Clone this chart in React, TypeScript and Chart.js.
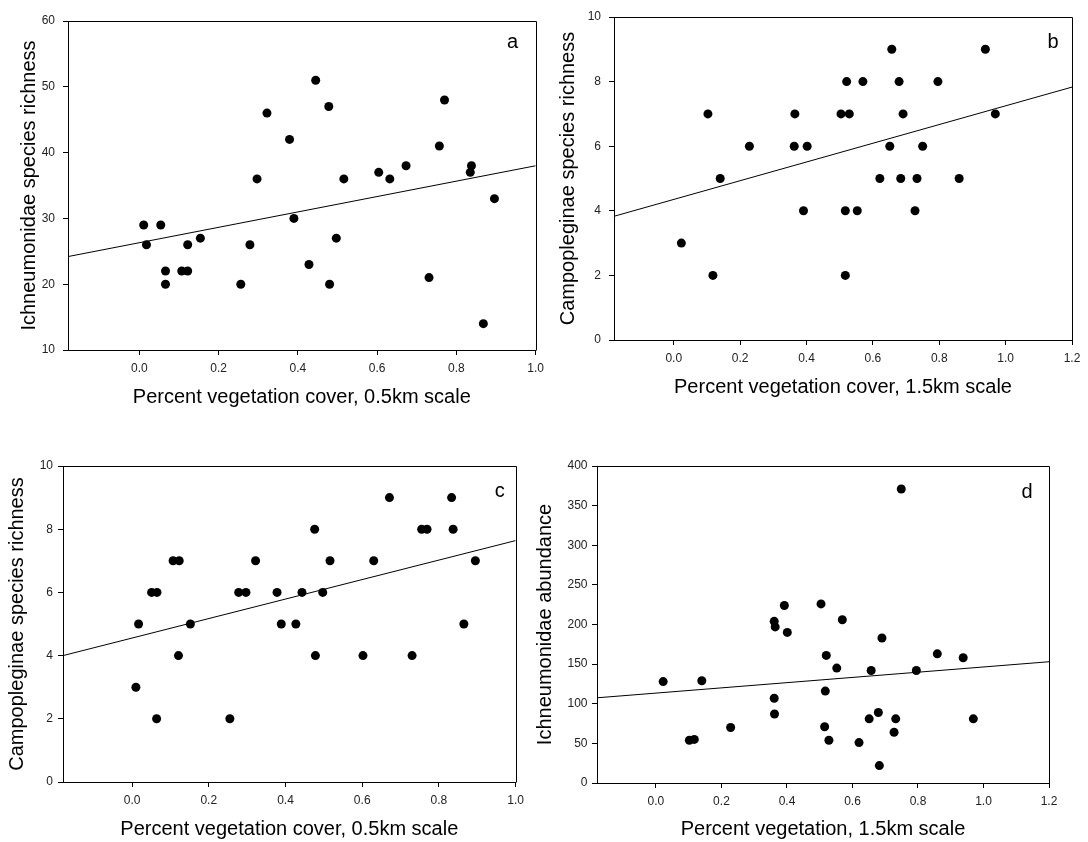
import React, { useEffect, useRef } from "react";
import { Chart, registerables } from "chart.js";

Chart.register(...registerables);

// ---------- Panel a: Ichneumonidae richness vs vegetation 0.5 km ----------
const aX = [0.011, 0.018, 0.054, 0.066, 0.066, 0.107, 0.122, 0.122, 0.154, 0.256, 0.279, 0.297, 0.322, 0.379, 0.390, 0.428, 0.445, 0.478, 0.480, 0.497, 0.516, 0.604, 0.632, 0.673, 0.731, 0.757, 0.770, 0.835, 0.838, 0.868, 0.896];
const aY = [29, 26, 29, 22, 20, 22, 22, 26, 27, 20, 26, 36, 46, 42, 30, 23, 51, 47, 20, 27, 36, 37, 36, 38, 21, 41, 48, 37, 38, 14, 33];
const aLineX = [-0.18, 1.0];
const aLineY = [24.2, 38.0];

// ---------- Panel b: Campopleginae richness vs vegetation 1.5 km ----------
const bX = [0.023, 0.103, 0.118, 0.140, 0.228, 0.363, 0.365, 0.391, 0.402, 0.504, 0.517, 0.517, 0.521, 0.529, 0.553, 0.570, 0.621, 0.651, 0.657, 0.679, 0.684, 0.691, 0.727, 0.733, 0.750, 0.796, 0.860, 0.939, 0.969];
const bY = [3, 7, 2, 5, 6, 6, 7, 4, 6, 7, 4, 2, 8, 7, 4, 8, 5, 6, 9, 8, 5, 7, 4, 5, 6, 8, 5, 9, 7];
const bLineX = [-0.18, 1.2];
const bLineY = [3.83, 7.83];

// ---------- Panel c: Campopleginae richness vs vegetation 0.5 km ----------
const cX = [0.010, 0.017, 0.051, 0.065, 0.064, 0.107, 0.123, 0.121, 0.152, 0.255, 0.278, 0.297, 0.322, 0.378, 0.389, 0.427, 0.443, 0.476, 0.478, 0.497, 0.516, 0.602, 0.630, 0.671, 0.730, 0.755, 0.769, 0.833, 0.837, 0.865, 0.895];
const cY = [3, 5, 6, 6, 2, 7, 7, 4, 5, 2, 6, 6, 7, 6, 5, 5, 6, 8, 4, 6, 7, 4, 7, 9, 4, 8, 8, 9, 8, 5, 7];
const cLineX = [-0.18, 1.0];
const cLineY = [4.0, 7.64];

// ---------- Panel d: Ichneumonidae abundance vs vegetation 1.5 km ----------
const dX = [0.022, 0.102, 0.117, 0.140, 0.228, 0.361, 0.364, 0.361, 0.362, 0.392, 0.401, 0.504, 0.520, 0.517, 0.515, 0.528, 0.552, 0.569, 0.620, 0.651, 0.657, 0.679, 0.682, 0.690, 0.727, 0.732, 0.749, 0.795, 0.859, 0.938, 0.969];
const dY = [128, 54, 55, 129, 70, 204, 197, 107, 87, 224, 190, 226, 161, 116, 71, 54, 145, 206, 51, 81, 142, 89, 22, 183, 64, 81, 371, 142, 163, 158, 81];
const dLineX = [-0.18, 1.2];
const dLineY = [107.5, 153];

// ---------- Tick labels ----------
const xTicks05 = [0.0, 0.2, 0.4, 0.6, 0.8, 1.0];
const xTicks15 = [0.0, 0.2, 0.4, 0.6, 0.8, 1.0, 1.2];
const yTicksA = [10, 20, 30, 40, 50, 60];
const yTicksBC = [0, 2, 4, 6, 8, 10];
const yTicksD = [0, 50, 100, 150, 200, 250, 300, 350, 400];

const FONT = "'Liberation Sans', Arial, Helvetica, sans-serif";

const frameLetterPlugin = {
  id: "frameLetter",
  afterDraw(chart: any, _args: any, opts: any) {
    const { ctx, chartArea } = chart;
    const l = Math.round(chartArea.left) + 0.5;
    const t = Math.round(chartArea.top) + 0.5;
    const r = Math.round(chartArea.right) + 0.5;
    const b = Math.round(chartArea.bottom) + 0.5;
    ctx.save();
    ctx.strokeStyle = "#000";
    ctx.lineWidth = 1;
    ctx.beginPath();
    ctx.moveTo(l, t);
    ctx.lineTo(r, t);
    ctx.lineTo(r, b);
    ctx.stroke();
    ctx.fillStyle = "#000";
    ctx.font = `20px ${FONT}`;
    ctx.textAlign = "center";
    ctx.textBaseline = "middle";
    ctx.fillText(opts.letter, chartArea.right - opts.dx, chartArea.top + opts.dy);
    ctx.restore();
  },
};

type PanelCfg = {
  left: number; top: number; w: number; h: number;
  plotL: number; plotT: number; plotR: number; plotB: number;
  xs: number[]; ys: number[]; lx: number[]; ly: number[];
  xMin: number; xMax: number; yMin: number; yMax: number;
  xTicks: number[]; yTicks: number[];
  xTitle: string; yTitle: string;
  letter: string; letterDx: number; letterDy: number;
  yTickPad: number; yTitlePad: number; xTickPad: number; xTitlePad: number;
};

const panels: PanelCfg[] = [
  {
    left: 0, top: 0, w: 550, h: 410, plotL: 68, plotT: 21, plotR: 536, plotB: 350,
    xs: aX, ys: aY, lx: aLineX, ly: aLineY, xMin: -0.18, xMax: 1.0, yMin: 10, yMax: 60,
    xTicks: xTicks05, yTicks: yTicksA,
    xTitle: "Percent vegetation cover, 0.5km scale", yTitle: "Ichneumonidae species richness",
    letter: "a", letterDx: 23, letterDy: 21, yTickPad: 8, yTitlePad: 17, xTickPad: 6, xTitlePad: 1,
  },
  {
    left: 550, top: 0, w: 538, h: 410, plotL: 614, plotT: 17, plotR: 1072, plotB: 340,
    xs: bX, ys: bY, lx: bLineX, ly: bLineY, xMin: -0.18, xMax: 1.2, yMin: 0, yMax: 10,
    xTicks: xTicks15, yTicks: yTicksBC,
    xTitle: "Percent vegetation cover, 1.5km scale", yTitle: "Campopleginae species richness",
    letter: "b", letterDx: 19, letterDy: 25, yTickPad: 8, yTitlePad: 6, xTickPad: 6, xTitlePad: 11,
  },
  {
    left: 0, top: 420, w: 530, h: 422, plotL: 63, plotT: 466, plotR: 516, plotB: 782,
    xs: cX, ys: cY, lx: cLineX, ly: cLineY, xMin: -0.18, xMax: 1.0, yMin: 0, yMax: 10,
    xTicks: xTicks05, yTicks: yTicksBC,
    xTitle: "Percent vegetation cover, 0.5km scale", yTitle: "Campopleginae species richness",
    letter: "c", letterDx: 16, letterDy: 25, yTickPad: 5, yTitlePad: 5.5, xTickPad: 6, xTitlePad: 1,
  },
  {
    left: 530, top: 420, w: 558, h: 422, plotL: 597, plotT: 466, plotR: 1049, plotB: 783,
    xs: dX, ys: dY, lx: dLineX, ly: dLineY, xMin: -0.18, xMax: 1.2, yMin: 0, yMax: 400,
    xTicks: xTicks15, yTicks: yTicksD,
    xTitle: "Percent vegetation, 1.5km scale", yTitle: "Ichneumonidae abundance",
    letter: "d", letterDx: 22, letterDy: 26, yTickPad: 4.5, yTitlePad: 3, xTickPad: 6, xTitlePad: 1,
  },
];

function Panel({ cfg }: { cfg: PanelCfg }) {
  const ref = useRef<HTMLCanvasElement>(null);
  useEffect(() => {
    const yAxisW = cfg.plotL - cfg.left;
    const xAxisH = cfg.top + cfg.h - cfg.plotB;
    const padTop = cfg.plotT - cfg.top;
    const padRight = cfg.left + cfg.w - cfg.plotR;
    const points = cfg.xs.map((x, i) => ({ x, y: cfg.ys[i] }));
    const line = cfg.lx.map((x, i) => ({ x, y: cfg.ly[i] }));
    const chart = new Chart(ref.current as HTMLCanvasElement, {
      type: "scatter",
      data: {
        datasets: [
          {
            data: points,
            pointRadius: 4.5,
            pointHoverRadius: 4.5,
            backgroundColor: "#000",
            borderColor: "#000",
            pointBorderWidth: 0,
            borderWidth: 0,
            order: 1,
          },
          {
            data: line,
            showLine: true,
            pointRadius: 0,
            pointHoverRadius: 0,
            borderColor: "#000",
            borderWidth: 1,
            fill: false,
            order: 2,
          } as any,
        ],
      },
      options: {
        responsive: false,
        animation: false,
        devicePixelRatio: 1,
        events: [],
        layout: { padding: { left: 0, top: padTop, right: padRight, bottom: 0 } },
        plugins: {
          legend: { display: false },
          tooltip: { enabled: false },
          frameLetter: { letter: cfg.letter, dx: cfg.letterDx, dy: cfg.letterDy },
        } as any,
        scales: {
          x: {
            type: "linear",
            position: "bottom",
            min: cfg.xMin,
            max: cfg.xMax,
            grid: { display: true, drawOnChartArea: false, drawTicks: true, tickLength: 5, color: "#000", tickColor: "#000" },
            border: { display: true, color: "#000", width: 1 },
            ticks: {
              padding: cfg.xTickPad,
              color: "#222",
              font: { family: FONT, size: 12 },
              maxRotation: 0,
              autoSkip: false,
              callback: (v: any) => Number(v).toFixed(1),
            },
            afterBuildTicks: (s: any) => {
              s.ticks = cfg.xTicks.map((v) => ({ value: v }));
            },
            afterFit: (s: any) => {
              s.height = xAxisH;
            },
            title: {
              display: true,
              text: cfg.xTitle,
              color: "#000",
              font: { family: FONT, size: 20 },
              padding: { top: 0, bottom: cfg.xTitlePad },
            },
          },
          y: {
            type: "linear",
            position: "left",
            min: cfg.yMin,
            max: cfg.yMax,
            grid: { display: true, drawOnChartArea: false, drawTicks: true, tickLength: 5, color: "#000", tickColor: "#000" },
            border: { display: true, color: "#000", width: 1 },
            ticks: {
              padding: cfg.yTickPad,
              color: "#222",
              font: { family: FONT, size: 12 },
              autoSkip: false,
              callback: (v: any) => String(Math.round(Number(v))),
            },
            afterBuildTicks: (s: any) => {
              s.ticks = cfg.yTicks.map((v) => ({ value: v }));
            },
            afterFit: (s: any) => {
              s.width = yAxisW;
            },
            title: {
              display: true,
              text: cfg.yTitle,
              color: "#000",
              font: { family: FONT, size: 20 },
              padding: { top: cfg.yTitlePad, bottom: 0 },
            },
          },
        },
      },
      plugins: [frameLetterPlugin as any],
    });
    return () => chart.destroy();
  }, [cfg]);
  return (
    <canvas
      ref={ref}
      width={cfg.w}
      height={cfg.h}
      style={{ position: "absolute", left: cfg.left, top: cfg.top, width: cfg.w, height: cfg.h }}
    />
  );
}

export default function App() {
  return (
    <div style={{ position: "absolute", left: 0, top: 0, width: 1088, height: 842, background: "#fff", overflow: "hidden" }}>
      {panels.map((p) => (
        <Panel key={p.letter} cfg={p} />
      ))}
    </div>
  );
}
